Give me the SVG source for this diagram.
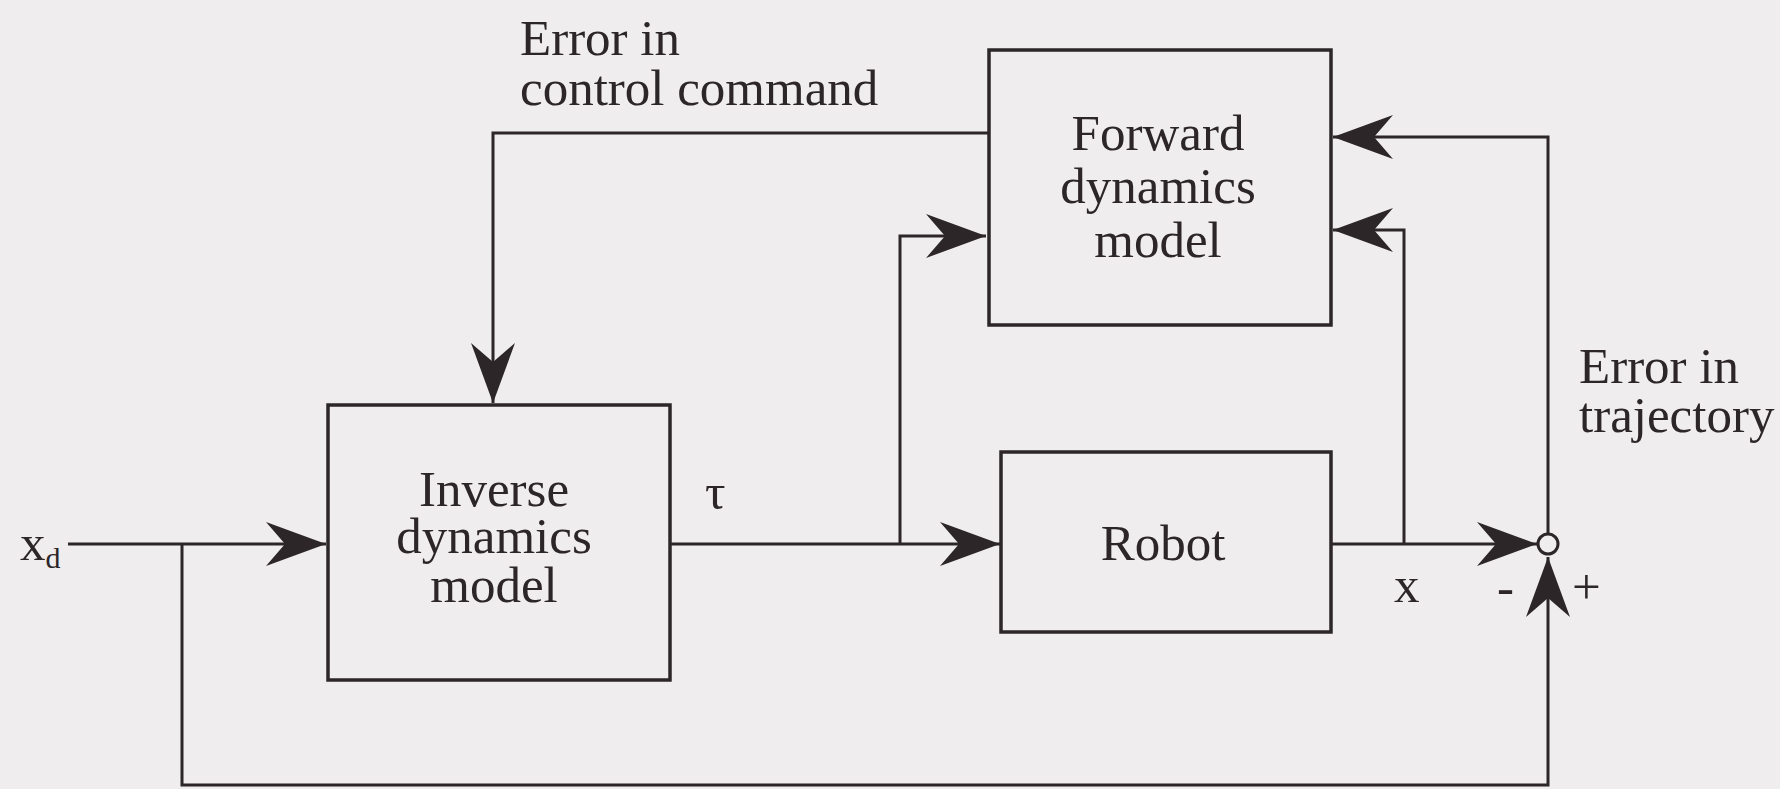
<svg xmlns="http://www.w3.org/2000/svg" width="1780" height="789" viewBox="0 0 1780 789">
  <defs>
    <style>
      .box { fill: none; stroke: #2d2629; stroke-width: 3.5; }
      .wire { fill: none; stroke: #2d2629; stroke-width: 3; }
      .lbl { font-family: "Liberation Serif", "Times New Roman", serif; font-size: 51px; fill: #2d2629; }
      .mid { text-anchor: middle; }
    </style>
    <marker id="head" viewBox="-62 -24 64 48" refX="0" refY="0" markerWidth="64" markerHeight="48" markerUnits="userSpaceOnUse" orient="auto">
      <path d="M0,0 L-60,-22 L-41,0 L-60,22 Z" fill="#2d2629"/>
    </marker>
  </defs>

  <rect x="0" y="0" width="1780" height="789" fill="#efedee"/>

  <!-- signal lines -->
  <g id="connectors">
    <path class="wire" d="M68,544 H326" marker-end="url(#head)"/>
    <path class="wire" d="M670,544 H1000" marker-end="url(#head)"/>
    <path class="wire" d="M900,544 V236 H986" marker-end="url(#head)"/>
    <path class="wire" d="M1331,544 H1537" marker-end="url(#head)"/>
    <path class="wire" d="M1404,544 V230 H1333" marker-end="url(#head)"/>
    <path class="wire" d="M1548,534 V137 H1333" marker-end="url(#head)"/>
    <path class="wire" d="M989,133 H493 V403" marker-end="url(#head)"/>
    <path class="wire" d="M182,544 V785 H1548 V557" marker-end="url(#head)"/>
  </g>

  <g id="inverse-model">
    <rect class="box" x="328" y="405" width="342" height="275"/>
    <text class="lbl mid" x="494" y="506">Inverse<tspan x="494" dy="47">dynamics</tspan><tspan x="494" dy="49">model</tspan></text>
  </g>

  <g id="forward-model">
    <rect class="box" x="989" y="50" width="342" height="275"/>
    <text class="lbl mid" x="1158" y="150">Forward<tspan x="1158" dy="53">dynamics</tspan><tspan x="1158" dy="54">model</tspan></text>
  </g>

  <g id="robot">
    <rect class="box" x="1001" y="452" width="330" height="180"/>
    <text class="lbl mid" x="1163" y="560">Robot</text>
  </g>

  <g id="comparator">
    <circle cx="1548" cy="544" r="10" fill="#efedee" stroke="#2d2629" stroke-width="3"/>
    <text class="lbl" x="1497" y="604">-</text>
    <text class="lbl" x="1572" y="604">+</text>
  </g>

  <g id="labels">
    <text class="lbl" x="20" y="560">x<tspan font-size="30" dy="8">d</tspan></text>
    <text class="lbl" x="705" y="509">τ</text>
    <text class="lbl" x="1394" y="602">x</text>
    <text class="lbl" x="520" y="55">Error in<tspan x="520" dy="50">control command</tspan></text>
    <text class="lbl" x="1579" y="383">Error in<tspan x="1579" dy="49">trajectory</tspan></text>
  </g>
</svg>
